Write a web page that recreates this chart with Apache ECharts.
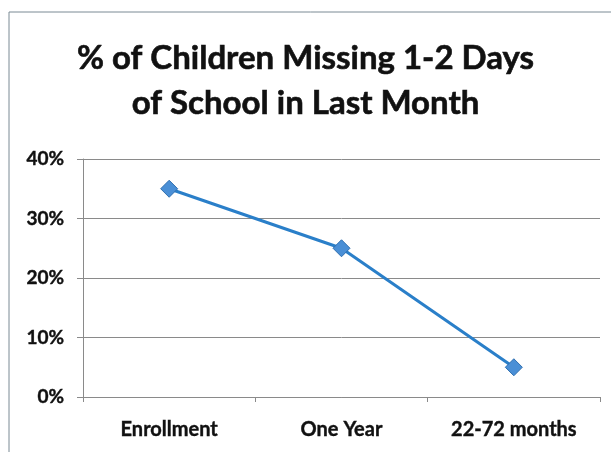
<!DOCTYPE html>
<html>
<head>
<meta charset="utf-8">
<script src="https://cdn.jsdelivr.net/npm/echarts@6/dist/echarts.min.js"></script>
<style>
  html, body { margin: 0; padding: 0; background: #fff; }
  #chart { width: 611px; height: 452px; }
</style>
</head>
<body>
<div id="chart"></div>
<script>
  // data
  const categories = ['Enrollment', 'One Year', '22-72 months']
  const missingPct = [35, 25, 5]
  const yTicks = [0, 10, 20, 30, 40]

  const font = 'Lato, "Open Sans", sans-serif'
  const chart = echarts.init(document.getElementById('chart'))

  chart.setOption({
    backgroundColor: '#fff',
    animation: false,
    title: {
      text: '% of Children Missing 1-2 Days\nof School in Last Month',
      left: 'center',
      top: 36,
      padding: [0, 0, 0, 16],
      textStyle: {
        fontFamily: font,
        fontSize: 33,
        fontWeight: 'bold',
        color: '#111',
        lineHeight: 45,
        textBorderColor: '#111',
        textBorderWidth: 0.6
      }
    },
    graphic: [{
      type: 'rect',
      shape: { x: 9, y: 12, width: 640, height: 480 },
      style: { fill: 'none', stroke: '#7a8a94', lineWidth: 1 },
      silent: true
    }],
    grid: { left: 83, right: 11, top: 159, bottom: 55 },
    xAxis: {
      type: 'category',
      data: categories,
      boundaryGap: true,
      axisLine: { lineStyle: { color: '#8a8a8a', width: 1 } },
      axisTick: { show: true, length: 5, lineStyle: { color: '#8a8a8a' } },
      axisLabel: {
        fontFamily: font,
        fontSize: 20,
        fontWeight: 'bold',
        color: '#111',
        margin: 23,
        textBorderColor: '#111',
        textBorderWidth: 0.4
      }
    },
    yAxis: {
      type: 'value',
      min: yTicks[0],
      max: yTicks[yTicks.length - 1],
      interval: 10,
      axisLine: { show: true, lineStyle: { color: '#8a8a8a', width: 1 } },
      axisTick: { show: true, length: 6, lineStyle: { color: '#8a8a8a' } },
      splitLine: { lineStyle: { color: '#8a8a8a', width: 1 } },
      axisLabel: {
        formatter: '{value}%',
        fontFamily: font,
        fontSize: 19,
        fontWeight: 'bold',
        color: '#111',
        margin: 19,
        textBorderColor: '#111',
        textBorderWidth: 0.4
      }
    },
    series: [{
      type: 'line',
      data: missingPct,
      symbol: 'diamond',
      symbolSize: 17,
      lineStyle: { color: '#2a7fc9', width: 3 },
      itemStyle: { color: '#4a8fd6', borderColor: '#2f6fb0', borderWidth: 1 }
    }]
  })
</script>
</body>
</html>
